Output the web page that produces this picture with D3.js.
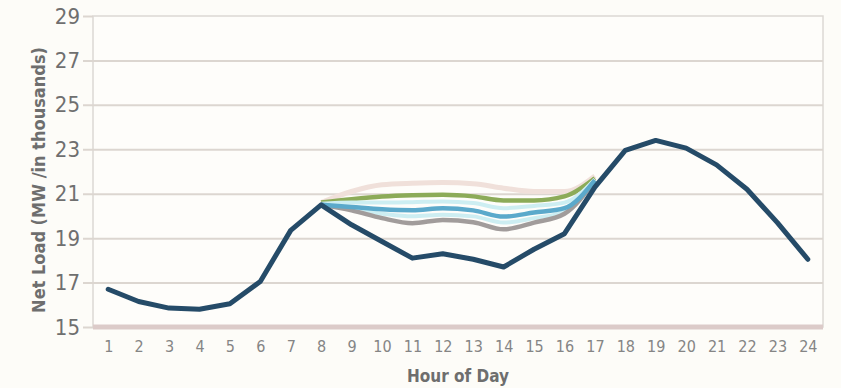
<!DOCTYPE html>
<html>
<head>
<meta charset="utf-8">
<script src="https://cdn.jsdelivr.net/npm/d3@7"></script>
<style>
  html, body { margin: 0; padding: 0; background: #fdfcf8; }
  svg { display: block; }
  .tick text { font-family: "DejaVu Sans", sans-serif; font-stretch: condensed; }
  .axis-title { fill: #6e6e6e; font-family: "DejaVu Sans", sans-serif; font-stretch: condensed; font-weight: bold; }
</style>
</head>
<body>
<div id="chart"></div>
<script>
  const hours = d3.range(1, 25);
  const yTicks = [15, 17, 19, 21, 23, 25, 27, 29];

  // net load, all day
  const netLoad = [16.7, 16.15, 15.85, 15.8, 16.05, 17.05, 19.35, 20.5, 19.6, 18.85, 18.1, 18.3,
    18.05, 17.7, 18.5, 19.2, 21.3, 22.95, 23.4, 23.05, 22.3, 21.2, 19.7, 18.05];

  // scenario lines, hours 8 to 17
  const scenHours = [8, 9, 10, 11, 12, 13, 14, 15, 16, 17];
  const pinkLine = [20.6, 21.1, 21.4, 21.47, 21.5, 21.45, 21.25, 21.1, 21.1, 21.8];
  const greenLine = [20.6, 20.75, 20.87, 20.93, 20.95, 20.88, 20.7, 20.7, 20.88, 21.7];
  const paleTopLine = [20.55, 20.6, 20.6, 20.62, 20.65, 20.58, 20.35, 20.45, 20.6, 21.65];
  const blueLine = [20.5, 20.4, 20.3, 20.26, 20.35, 20.25, 19.97, 20.15, 20.35, 21.6];
  const paleLowLine = [20.5, 20.3, 20.1, 19.98, 20.05, 19.98, 19.7, 19.9, 20.2, 21.6];
  const grayLine = [20.5, 20.25, 19.9, 19.67, 19.82, 19.72, 19.4, 19.7, 20.1, 21.6];

  const W = 841, H = 388;
  const margin = { top: 16, right: 18, bottom: 61, left: 93 };
  const width = W - margin.left - margin.right;
  const height = H - margin.top - margin.bottom;

  const svg = d3.select("#chart").append("svg")
    .attr("width", W)
    .attr("height", H);

  const g = svg.append("g")
    .attr("transform", "translate(" + margin.left + "," + margin.top + ")");

  const x = d3.scalePoint()
    .domain(hours)
    .range([0, width])
    .padding(0.5);

  const y = d3.scaleLinear()
    .domain([15, 29])
    .range([height, 0]);

  // frame
  g.append("rect")
    .attr("width", width)
    .attr("height", height)
    .attr("fill", "#fefdfa")
    .attr("stroke", "#dcd8d4")
    .attr("stroke-width", 1.5);

  // y axis with grid lines
  const yAxis = g.append("g")
    .call(d3.axisLeft(y).tickValues(yTicks).tickSize(10).tickPadding(3));
  yAxis.select(".domain").remove();
  yAxis.selectAll(".tick line")
    .attr("x1", function (d) { return d === 29 ? 0 : width; })
    .attr("x2", -10)
    .attr("stroke", "#dcd6d0")
    .attr("stroke-width", 2);
  yAxis.selectAll(".tick text")
    .style("font-size", "22px")
    .style("fill", "#6f6f6f");

  // bottom axis band
  g.append("line")
    .attr("x1", 0)
    .attr("x2", width)
    .attr("y1", y(15))
    .attr("y2", y(15))
    .attr("stroke", "#dccbc9")
    .attr("stroke-width", 5);

  const xAxis = g.append("g")
    .attr("transform", "translate(0," + height + ")")
    .call(d3.axisBottom(x).tickSize(0).tickPadding(14));
  xAxis.select(".domain").remove();
  xAxis.selectAll(".tick text")
    .style("font-size", "16px")
    .style("fill", "#858585");

  // lines
  const lineAll = d3.line()
    .x(function (d, i) { return x(hours[i]); })
    .y(function (d) { return y(d); });

  const lineScen = d3.line()
    .x(function (d, i) { return x(scenHours[i]); })
    .y(function (d) { return y(d); })
    .curve(d3.curveMonotoneX);

  const scenarios = [
    { values: pinkLine, color: "#f0e0da", w: 5 },
    { values: greenLine, color: "#8cab58", w: 4.5 },
    { values: paleTopLine, color: "#cdeef2", w: 4 },
    { values: paleLowLine, color: "#cdeef2", w: 4 },
    { values: grayLine, color: "#a19c9b", w: 4.5 },
    { values: blueLine, color: "#5ba9cb", w: 4.5 }
  ];

  g.selectAll(".scen")
    .data(scenarios)
    .enter().append("path")
    .attr("class", "scen")
    .attr("d", function (d) { return lineScen(d.values); })
    .attr("fill", "none")
    .attr("stroke", function (d) { return d.color; })
    .attr("stroke-width", function (d) { return d.w; })
    .attr("stroke-linejoin", "round");

  g.append("path")
    .attr("d", lineAll(netLoad))
    .attr("fill", "none")
    .attr("stroke", "#254b68")
    .attr("stroke-width", 5)
    .attr("stroke-linejoin", "round")
    .attr("stroke-linecap", "round");

  // axis titles
  svg.append("text")
    .attr("class", "axis-title")
    .attr("transform", "translate(45,180) rotate(-90)")
    .attr("text-anchor", "middle")
    .style("font-size", "18px")
    .text("Net Load (MW /in thousands)");

  svg.append("text")
    .attr("class", "axis-title")
    .attr("x", 458)
    .attr("y", 382)
    .attr("text-anchor", "middle")
    .style("font-size", "17px")
    .text("Hour of Day");
</script>
</body>
</html>
